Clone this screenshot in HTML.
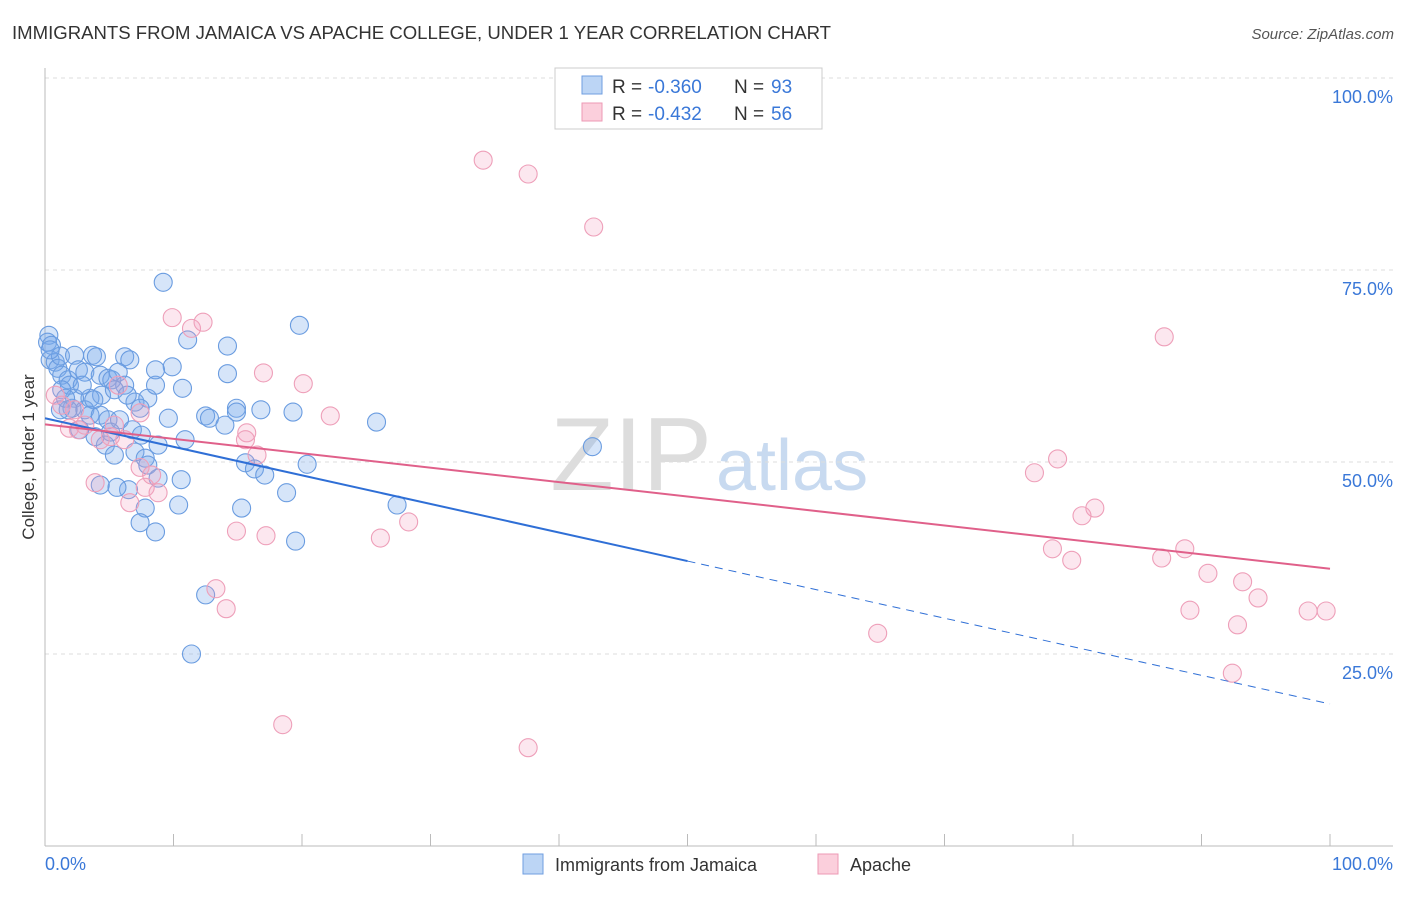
<!DOCTYPE html>
<html><head><meta charset="utf-8"><style>
body{margin:0;background:#fff;font-family:"Liberation Sans",sans-serif}
svg text{font-family:"Liberation Sans",sans-serif}
</style></head><body>
<svg width="1406" height="892" xmlns="http://www.w3.org/2000/svg">
<text x="12" y="39" font-size="18" fill="#333" textLength="819" lengthAdjust="spacingAndGlyphs">IMMIGRANTS FROM JAMAICA VS APACHE COLLEGE, UNDER 1 YEAR CORRELATION CHART</text>
<text x="1394" y="39" font-size="15" fill="#555" text-anchor="end" font-style="italic">Source: ZipAtlas.com</text>
<text x="712" y="490" font-size="104" fill="#ddd" text-anchor="end" font-family="Liberation Serif">ZIP</text>
<text x="716" y="490" font-size="72" fill="#c8daf0">atlas</text>
<g id="grid"></g>
<g id="axes"></g>
<g id="pts"></g>
<g id="lines"></g>
<text transform="translate(34,457) rotate(-90)" font-size="17" fill="#333" text-anchor="middle">College, Under 1 year</text>
<g>
<rect x="555" y="68" width="267" height="61" fill="#fff" stroke="#ccc"/>
<rect x="582" y="76" width="20" height="18" fill="#bcd5f5" stroke="#6f9ee0"/>
<rect x="582" y="103" width="20" height="18" fill="#fbcfdc" stroke="#ec9ab5"/>
<text x="612" y="93" font-size="19" fill="#333">R = </text>
<text x="648" y="93" font-size="19" fill="#3a78d8">-0.360</text>
<text x="734" y="93" font-size="19" fill="#333">N = </text>
<text x="771" y="93" font-size="19" fill="#3a78d8">93</text>
<text x="612" y="120" font-size="19" fill="#333">R = </text>
<text x="648" y="120" font-size="19" fill="#3a78d8">-0.432</text>
<text x="734" y="120" font-size="19" fill="#333">N = </text>
<text x="771" y="120" font-size="19" fill="#3a78d8">56</text>
</g>
<g>
<rect x="523" y="854" width="20" height="20" fill="#bcd5f5" stroke="#6f9ee0"/>
<text x="555" y="871" font-size="18" fill="#333">Immigrants from Jamaica</text>
<rect x="818" y="854" width="20" height="20" fill="#fbcfdc" stroke="#ec9ab5"/>
<text x="850" y="871" font-size="18" fill="#333">Apache</text>
</g>
</svg>
<script>
const blueX=[0.3,0.2,0.5,0.4,0.8,1.0,1.3,1.8,1.9,1.2,2.3,2.6,3.1,3.7,4.0,4.3,4.9,5.2,6.2,6.6,5.7,6.2,4.4,3.5,2.3,2.1,1.8,3.1,3.5,4.3,4.9,5.8,7.0,8.0,8.6,6.8,7.5,4.7,5.4,7.0,7.8,8.8,9.9,9.6,10.9,10.7,9.2,11.1,14.2,14.2,12.5,12.8,14.0,14.9,14.9,16.8,19.3,19.8,15.6,16.3,17.1,20.4,18.8,15.3,19.5,10.6,10.4,7.8,7.4,8.6,6.5,5.6,4.3,12.5,11.4,25.8,27.4,42.6,8.0,8.8,3.9,5.1,2.7,1.2,2.9,1.3,5.4,7.4,0.4,1.6,3.8,6.4,8.6];
const blueY=[66.5,65.6,65.2,63.3,63.0,62.2,61.3,60.7,60.0,63.8,63.9,62.0,61.7,63.9,63.7,61.3,60.9,60.7,63.7,63.3,61.7,60.0,58.7,58.3,58.3,57.0,56.8,56.8,56.1,56.1,55.5,55.5,57.8,58.3,60.0,54.2,53.5,52.2,50.9,51.3,50.5,52.2,62.4,55.7,52.9,59.6,73.4,65.9,65.1,61.5,56.0,55.7,54.8,57.0,56.5,56.8,56.5,67.8,49.9,49.1,48.3,49.7,46.0,44.0,39.7,47.7,44.4,44.0,42.1,40.9,46.4,46.7,47.0,32.7,25.0,55.2,44.4,52.0,49.6,47.9,53.3,53.9,54.2,56.8,60.0,59.4,59.4,57.0,64.6,58.3,58.1,58.7,62.0];
const pinkX=[34.1,37.6,42.7,87.1,9.9,11.4,12.3,17.0,20.1,22.2,0.8,1.3,1.9,2.6,3.1,5.7,6.2,5.1,5.4,7.4,7.8,8.8,8.3,6.6,3.9,15.7,15.6,16.5,14.9,17.2,26.1,28.3,13.3,14.1,18.5,37.6,64.8,77.0,78.8,81.7,80.7,78.4,79.9,86.9,88.7,90.5,89.1,93.2,94.4,92.8,92.4,98.3,99.7,2.3,4.3,7.4];
const pinkY=[89.3,87.5,80.6,66.3,68.8,67.4,68.2,61.6,60.2,56.0,58.7,57.4,54.4,54.2,54.8,60.0,52.9,53.3,54.8,49.3,46.7,46.0,48.3,44.7,47.3,53.8,52.9,50.9,41.0,40.4,40.1,42.2,33.5,30.9,15.8,12.8,27.7,48.6,50.4,44.0,43.0,38.7,37.2,37.5,38.7,35.5,30.7,34.4,32.3,28.8,22.5,30.6,30.6,56.8,52.9,56.4];
const blueFit=[55.7,18.5]; const blueSolidEnd=50;
const pinkFit=[54.9,36.1];
const yTicks=[100,75,50,25];
const xTickLabels=["0.0%","100.0%"];
const NS="http://www.w3.org/2000/svg";
const X=v=>45+v*12.85, Y=v=>846-v*7.68;
function mk(p,t,a){const e=document.createElementNS(NS,t);for(const k in a)e.setAttribute(k,a[k]);p.appendChild(e);return e;}
const g=document.getElementById('grid'),ax=document.getElementById('axes'),pts=document.getElementById('pts'),ln=document.getElementById('lines');
yTicks.forEach(t=>{
 const l=mk(g,'line',{x1:45,x2:1393,y1:Y(t),y2:Y(t),stroke:'#ddd','stroke-dasharray':'4,4'});
 
 
 const tx=mk(g,'text',{x:1393,y:Y(t)+25,'font-size':18,fill:'#3a78d8','text-anchor':'end'});tx.textContent=t.toFixed(1)+'%';
 
 
});
mk(ax,'line',{x1:45,x2:45,y1:68,y2:846,stroke:'#bbb'});
mk(ax,'line',{x1:45,x2:1393,y1:846,y2:846,stroke:'#bbb'});
for(let i=0;i<=10;i++){const t=mk(ax,'line',{x1:X(i*10),x2:X(i*10),y1:834,y2:846,stroke:'#bbb'});
 
 }
const l0=mk(ax,'text',{x:45,y:870,'font-size':18,fill:'#3a78d8'});l0.textContent=xTickLabels[0];


const l1=mk(ax,'text',{x:1393,y:870,'font-size':18,fill:'#3a78d8','text-anchor':'end'});l1.textContent=xTickLabels[1];


blueX.forEach((x,i)=>{const c=mk(pts,'circle',{cx:X(x),cy:Y(blueY[i]),r:9,fill:'rgba(120,170,235,0.3)',stroke:'#6a9ce0','stroke-width':1.1});
 
 });
pinkX.forEach((x,i)=>{const c=mk(pts,'circle',{cx:X(x),cy:Y(pinkY[i]),r:9,fill:'rgba(245,160,190,0.25)',stroke:'#ee9fb9','stroke-width':1.1});
 
 });
const bAt=x=>blueFit[0]+(blueFit[1]-blueFit[0])*x/100;
const b1=mk(ln,'line',{x1:X(0),y1:Y(bAt(0)),x2:X(blueSolidEnd),y2:Y(bAt(blueSolidEnd)),stroke:'#2f6fd6','stroke-width':2});


const b2=mk(ln,'line',{x1:X(blueSolidEnd),y1:Y(bAt(blueSolidEnd)),x2:X(100),y2:Y(bAt(100)),stroke:'#2f6fd6','stroke-width':1,'stroke-dasharray':'8,6'});


const p1=mk(ln,'line',{x1:X(0),y1:Y(pinkFit[0]),x2:X(100),y2:Y(pinkFit[1]),stroke:'#e0608a','stroke-width':2});


</script>
</body></html>
